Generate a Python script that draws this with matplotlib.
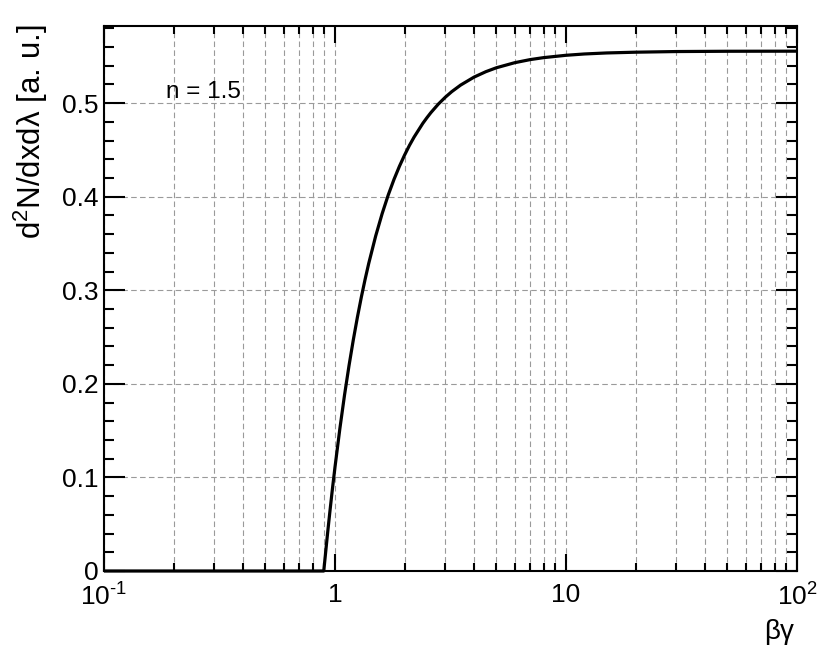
import matplotlib
matplotlib.use("Agg")
import matplotlib.pyplot as plt
from matplotlib.ticker import FixedLocator, FixedFormatter, MultipleLocator

plt.rcParams['font.family'] = ['Liberation Sans', 'DejaVu Sans']
plt.rcParams['mathtext.fontset'] = 'custom'
plt.rcParams['mathtext.rm'] = 'Liberation Sans'
plt.rcParams['mathtext.it'] = 'Liberation Sans:italic'
plt.rcParams['mathtext.default'] = 'regular'

# Values (n = 1.5)
beta_gamma = [0.1, 0.3, 0.6, 0.85, 0.894, 0.91, 0.92, 0.93, 0.95, 0.97, 0.98, 1.0,
              1.05, 1.1, 1.15, 1.2, 1.25, 1.3, 1.35, 1.4, 1.5, 1.6, 1.7, 1.8, 1.9,
              2.0, 2.1, 2.2, 2.4, 2.5, 2.6, 2.8, 3.0, 3.2, 3.5, 4.0, 4.5, 5.0, 6.0,
              7.0, 8.0, 10.0, 12.0, 15.0, 20.0, 30.0, 50.0, 100.0]
yield_au = [0.0, 0.0, 0.0, 0.0, 0.0, 0.0188, 0.0304, 0.0417, 0.0631, 0.0832, 0.0928,
            0.1111, 0.1524, 0.1883, 0.2195, 0.2469, 0.2711, 0.2926, 0.3117, 0.3288,
            0.3580, 0.3819, 0.4018, 0.4184, 0.4324, 0.4444, 0.4548, 0.4637, 0.4784,
            0.4844, 0.4898, 0.4989, 0.5062, 0.5122, 0.5193, 0.5278, 0.5336, 0.5378,
            0.5432, 0.5465, 0.5486, 0.5511, 0.5525, 0.5536, 0.5544, 0.5551, 0.5554,
            0.5555]

x_tick_values = [0.1, 1, 10, 100]
x_tick_labels = ['$10^{\\text{-}1}$', '1', '10', '$10^{2}$']
y_tick_values = [0, 0.1, 0.2, 0.3, 0.4, 0.5]
y_tick_labels = ['0', '0.1', '0.2', '0.3', '0.4', '0.5']
x_minor = [m * 10.0 ** e for e in (-1, 0, 1) for m in range(2, 10)]

fig = plt.figure(figsize=(8.3, 6.5), dpi=100)
ax = fig.add_axes([104 / 830, 79 / 650, 693 / 830, 545 / 650])

ax.set_xscale('log')
ax.set_xlim(0.1, 100)
ax.set_ylim(0, 0.5824)

ax.xaxis.set_major_locator(FixedLocator(x_tick_values))
ax.xaxis.set_major_formatter(FixedFormatter(x_tick_labels))
ax.xaxis.set_minor_locator(FixedLocator(x_minor))
ax.xaxis.set_minor_formatter(FixedFormatter([''] * len(x_minor)))
ax.yaxis.set_major_locator(FixedLocator(y_tick_values))
ax.yaxis.set_major_formatter(FixedFormatter(y_tick_labels))
ax.yaxis.set_minor_locator(MultipleLocator(0.02))

grid_kw = dict(color='#9a9a9a', linewidth=0.8, linestyle=(0, (5, 3)))
ax.grid(True, which='major', axis='both', **grid_kw)
ax.grid(True, which='minor', axis='x', **grid_kw)
ax.set_axisbelow(True)

ax.plot(beta_gamma, yield_au, color='black', linewidth=2.3, solid_capstyle='butt',
        solid_joinstyle='round', zorder=3, clip_on=False)

for s in ax.spines.values():
    s.set_linewidth(1.5)

ax.tick_params(axis='both', which='both', direction='in', top=True, right=True,
               width=1.5, labelsize=19, colors='black')
ax.tick_params(axis='y', which='major', length=15, pad=4)
ax.tick_params(axis='y', which='minor', length=7.5)
ax.tick_params(axis='x', which='major', length=12, pad=9)
ax.tick_params(axis='x', which='minor', length=6)

fig.text(794 / 830, 1 - 632 / 650, 'βγ', ha='right', va='center', fontsize=20)
fig.text(31 / 830, 1 - 25 / 650, 'd$^{2}$N/dxdλ [a. u.]', ha='center', va='top',
         rotation=90, fontsize=22.5)
ax.text(0.0895, 0.868, 'n = 1.5', transform=ax.transAxes, ha='left', va='baseline', fontsize=17.5)

fig.savefig('out.png', dpi=100)
